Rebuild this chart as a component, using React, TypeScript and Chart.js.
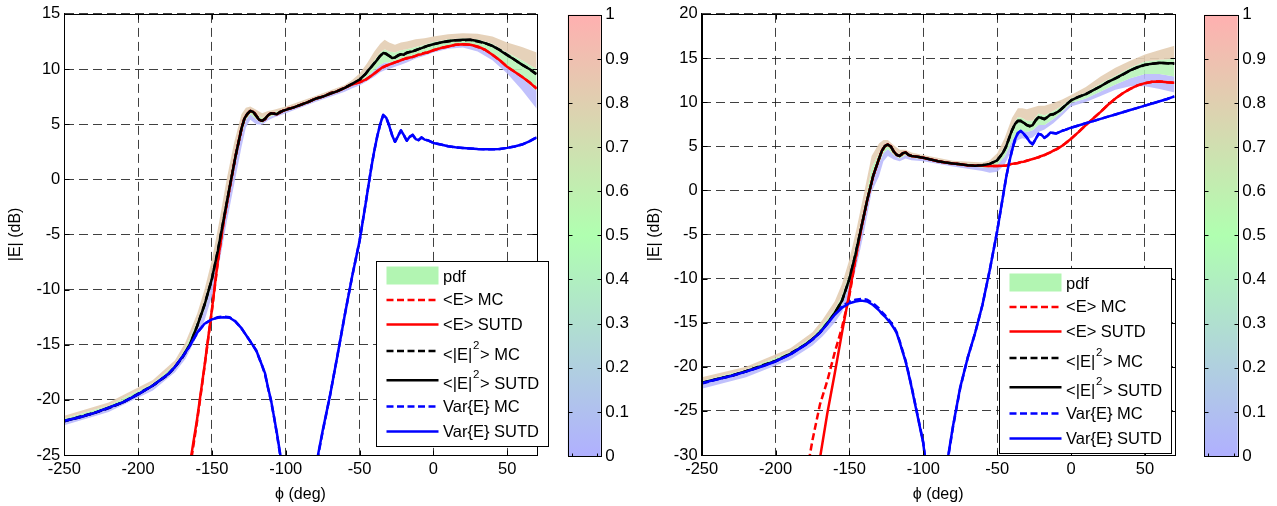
import React, { useEffect, useRef } from 'react';
import { Chart, registerables } from 'chart.js';

Chart.register(...registerables);

// ---------------- data ----------------
const PHI = [
  -250, -240, -230, -220, -210, -200, -190, -180, -175, -170,
  -165, -160, -155, -150, -146, -142, -138, -134, -130, -128,
  -126, -124, -122, -120, -118, -116, -114, -112, -110, -108,
  -106, -104, -102, -100, -95, -90, -85, -80, -75, -70,
  -65, -60, -55, -50, -46, -44, -42, -40, -38, -36,
  -34, -32, -30, -28, -26, -24, -22, -20, -18, -16,
  -14, -12, -10, -8, -6, -4, 0, 5, 10, 15,
  20, 25, 30, 35, 40, 45, 50, 55, 60, 65,
  70,
];

const X_TICKS = [-250, -200, -150, -100, -50, 0, 50];

// ----- left panel -----
const L_E2_SUTD = [
  -21.9, -21.6, -21.2, -20.7, -20.2, -19.5, -18.7, -17.7, -17.0, -16.1,
  -15.0, -13.3, -11.4, -9.0, -6.5, -3.6, -0.7, 2.1, 4.6, 5.5,
  5.95, 6.2, 6.1, 5.75, 5.4, 5.3, 5.5, 5.8, 6.0, 5.95,
  5.9, 6.1, 6.2, 6.3, 6.5, 6.75, 7.0, 7.3, 7.5, 7.75,
  8.0, 8.3, 8.65, 9.05, 9.55, 9.9, 10.2, 10.5, 10.85, 11.2,
  11.45, 11.4, 11.2, 11.0, 11.05, 11.25, 11.35, 11.3, 11.5, 11.55,
  11.6, 11.7, 11.8, 11.9, 12.0, 12.1, 12.25, 12.4, 12.55, 12.6,
  12.65, 12.65, 12.55, 12.35, 12.1, 11.7, 11.25, 10.85, 10.4, 10.0,
  9.55,
];
const L_E2_MC = [
  -21.95, -21.55, -21.2, -20.75, -20.2, -19.45, -18.7, -17.75, -17.0, -16.15,
  -15.05, -13.3, -11.35, -9.05, -6.45, -3.6, -0.75, 2.1, 4.55, 5.5,
  5.9, 6.2, 6.15, 5.8, 5.4, 5.3, 5.45, 5.8, 6.0, 6.0,
  5.9, 6.05, 6.2, 6.35, 6.5, 6.75, 7.0, 7.3, 7.5, 7.8,
  8.0, 8.3, 8.65, 9.0, 9.55, 9.9, 10.2, 10.55, 10.85, 11.2,
  11.45, 11.35, 11.2, 11.05, 11.05, 11.2, 11.35, 11.35, 11.45, 11.55,
  11.6, 11.7, 11.8, 11.9, 12.0, 12.1, 12.25, 12.4, 12.5, 12.6,
  12.6, 12.65, 12.5, 12.35, 12.1, 11.75, 11.3, 10.85, 10.4, 10.0,
  9.5,
];
const L_E_SUTD = [
  null, null, null, null, null, null, null, null, null, -30.5,
  -25.9, -21.7, -16.9, -11.8, -7.4, -3.8, -0.8, 2.1, 4.6, 5.5,
  5.95, 6.2, 6.1, 5.75, 5.4, 5.3, 5.5, 5.8, 6.0, 5.95,
  5.9, 6.1, 6.2, 6.3, 6.5, 6.75, 7.0, 7.3, 7.5, 7.75,
  8.0, 8.3, 8.6, 8.8, 9.05, 9.2, 9.4, 9.6, 9.8, 10.0,
  10.2, 10.3, 10.4, 10.5, 10.6, 10.7, 10.8, 10.9, 10.95, 11.05,
  11.1, 11.2, 11.3, 11.35, 11.45, 11.5, 11.7, 11.9, 12.05, 12.2,
  12.25, 12.2, 12.05, 11.75, 11.3, 10.8, 10.2, 9.75, 9.3, 8.8,
  8.2,
];
const L_E_MC = [
  null, null, null, null, null, null, null, null, null, -30.9,
  -26.3, -21.9, -17.0, -11.9, -7.5, -3.8, -0.8, 2.1, 4.55, 5.5,
  5.9, 6.2, 6.15, 5.8, 5.4, 5.3, 5.45, 5.8, 6.0, 6.0,
  5.9, 6.05, 6.2, 6.35, 6.5, 6.75, 7.0, 7.3, 7.5, 7.8,
  8.0, 8.3, 8.6, 8.8, 9.0, 9.2, 9.4, 9.6, 9.8, 10.0,
  10.15, 10.3, 10.4, 10.5, 10.6, 10.7, 10.8, 10.9, 11.0, 11.05,
  11.1, 11.2, 11.3, 11.4, 11.45, 11.5, 11.7, 11.9, 12.05, 12.2,
  12.25, 12.2, 12.0, 11.75, 11.3, 10.8, 10.2, 9.75, 9.3, 8.8,
  8.25,
];
const L_VAR_SUTD = [
  -21.9, -21.6, -21.2, -20.7, -20.2, -19.5, -18.7, -17.7, -17.0, -16.1,
  -15.1, -13.9, -13.1, -12.7, -12.55, -12.5, -12.55, -12.9, -13.5, -13.9,
  -14.3, -14.7, -15.1, -15.5, -16.2, -16.9, -17.6, -18.9, -20.0, -21.5,
  -23.0, -24.7, -26.3, -28.0, null, null, null, -26.3, -22.8, -19.6,
  -16.0, -12.3, -8.8, -5.6, -2.3, -0.6, 1.1, 2.6, 3.9, 5.0,
  5.85, 5.6, 4.9, 4.0, 3.4, 3.9, 4.45, 4.0, 3.5, 3.85,
  4.05, 3.65, 3.55, 3.8, 3.6, 3.55, 3.3, 3.15, 3.0, 2.9,
  2.85, 2.8, 2.75, 2.72, 2.72, 2.75, 2.85, 2.98, 3.15, 3.45,
  3.8,
];
const L_VAR_MC = [
  -21.95, -21.55, -21.2, -20.75, -20.2, -19.45, -18.7, -17.75, -17.0, -16.15,
  -15.1, -13.95, -13.1, -12.7, -12.5, -12.45, -12.5, -12.9, -13.5, -13.9,
  -14.3, -14.7, -15.1, -15.55, -16.2, -16.9, -17.7, -18.9, -20.1, -21.5,
  -23.1, -24.8, -26.4, -28.1, null, null, null, -26.4, -22.9, -19.6,
  -16.0, -12.3, -8.8, -5.6, -2.3, -0.6, 1.1, 2.6, 3.9, 5.0,
  5.8, 5.6, 4.9, 4.05, 3.4, 3.9, 4.4, 4.0, 3.5, 3.85,
  4.0, 3.65, 3.55, 3.8, 3.6, 3.55, 3.3, 3.15, 3.0, 2.9,
  2.85, 2.8, 2.75, 2.72, 2.72, 2.75, 2.85, 2.98, 3.15, 3.45,
  3.8,
];

// ----- right panel -----
const R_E2_SUTD = [
  -21.8, -21.4, -21.0, -20.5, -19.95, -19.35, -18.55, -17.5, -16.85, -16.1,
  -15.1, -13.9, -12.5, -10.0, -7.3, -4.2, -1.1, 1.6, 3.6, 4.5,
  5.05, 5.2, 4.95, 4.4, 4.0, 3.9, 4.2, 4.3, 4.0, 3.9,
  3.85, 3.8, 3.75, 3.7, 3.5, 3.3, 3.15, 3.05, 2.95, 2.85,
  2.8, 2.85, 3.0, 3.4, 4.3, 4.95, 5.9, 6.8, 7.5, 7.9,
  7.85, 7.65, 7.4, 7.25, 7.4, 7.95, 8.3, 8.2, 8.05, 8.3,
  8.6, 8.6, 8.8, 9.0, 9.3, 9.6, 10.2, 10.6, 10.9, 11.35,
  11.8, 12.3, 12.7, 13.15, 13.6, 13.95, 14.25, 14.35, 14.45, 14.4,
  14.4,
];
const R_E2_MC = [
  -21.85, -21.4, -21.05, -20.5, -19.9, -19.35, -18.5, -17.5, -16.9, -16.1,
  -15.05, -13.95, -12.5, -10.05, -7.3, -4.2, -1.15, 1.6, 3.55, 4.5,
  5.0, 5.2, 5.0, 4.4, 4.05, 3.9, 4.15, 4.3, 4.05, 3.9,
  3.85, 3.8, 3.75, 3.7, 3.5, 3.3, 3.15, 3.05, 2.95, 2.85,
  2.8, 2.85, 3.0, 3.4, 4.25, 4.95, 5.85, 6.8, 7.5, 7.85,
  7.9, 7.65, 7.4, 7.3, 7.4, 7.9, 8.3, 8.2, 8.1, 8.3,
  8.55, 8.65, 8.8, 9.0, 9.3, 9.6, 10.2, 10.6, 10.9, 11.35,
  11.8, 12.3, 12.7, 13.1, 13.6, 13.95, 14.2, 14.35, 14.45, 14.4,
  14.35,
];
const R_E_SUTD = [
  null, null, null, null, null, null, null, null, null, -30.4,
  -25.3, -20.8, -16.1, -11.6, -7.8, -4.3, -1.1, 1.6, 3.6, 4.5,
  5.05, 5.2, 4.95, 4.4, 4.0, 3.9, 4.2, 4.3, 4.0, 3.9,
  3.85, 3.8, 3.75, 3.7, 3.5, 3.3, 3.15, 3.05, 2.95, 2.85,
  2.8, 2.8, 2.75, 2.75, 2.78, 2.8, 2.9, 3.0, 3.05, 3.1,
  3.2, 3.25, 3.35, 3.45, 3.55, 3.65, 3.75, 3.9, 4.0, 4.15,
  4.3, 4.5, 4.65, 4.85, 5.05, 5.3, 5.85, 6.6, 7.4, 8.15,
  8.9, 9.7, 10.4, 11.0, 11.5, 11.9, 12.15, 12.3, 12.35, 12.25,
  12.2,
];
const R_E_MC = [
  null, null, null, null, null, null, null, -33.0, -28.3, -24.3,
  -21.6, -18.4, -15.5, -11.9, -7.9, -4.3, -1.15, 1.6, 3.55, 4.5,
  5.0, 5.2, 5.0, 4.4, 4.05, 3.9, 4.15, 4.3, 4.05, 3.9,
  3.85, 3.8, 3.75, 3.7, 3.5, 3.3, 3.15, 3.05, 2.95, 2.85,
  2.8, 2.8, 2.75, 2.75, 2.8, 2.8, 2.9, 3.0, 3.05, 3.1,
  3.2, 3.25, 3.35, 3.45, 3.55, 3.65, 3.75, 3.9, 4.0, 4.15,
  4.3, 4.5, 4.65, 4.85, 5.05, 5.3, 5.85, 6.6, 7.4, 8.15,
  8.9, 9.7, 10.4, 11.0, 11.5, 11.9, 12.15, 12.3, 12.35, 12.25,
  12.2,
];
const R_VAR_SUTD = [
  -21.85, -21.45, -21.05, -20.55, -20.0, -19.4, -18.6, -17.55, -16.9, -16.15,
  -15.15, -14.1, -13.3, -12.8, -12.6, -12.5, -12.6, -13.0, -13.6, -14.0,
  -14.3, -14.7, -15.1, -15.6, -16.2, -17.2, -18.3, -19.4, -20.8, -22.3,
  -23.9, -25.5, -27.1, -28.7, -36.0, null, -32.0, -26.8, -22.3, -19.0,
  -16.2, -13.0, -9.0, -4.6, -0.6, 1.4, 3.1, 4.5, 5.75, 6.5,
  6.75, 6.4, 6.0, 5.5, 5.2, 5.8, 6.4, 6.3, 5.95, 6.2,
  6.55, 6.5, 6.45, 6.6, 6.75, 6.85, 7.1, 7.35, 7.6, 7.85,
  8.1, 8.35, 8.6, 8.85, 9.1, 9.35, 9.6, 9.85, 10.1, 10.35,
  10.65,
];
const R_VAR_MC = [
  -21.9, -21.45, -21.0, -20.55, -20.0, -19.35, -18.6, -17.5, -16.9, -16.1,
  -15.1, -14.0, -13.15, -12.6, -12.4, -12.3, -12.4, -12.8, -13.4, -13.8,
  -14.15, -14.55, -14.95, -15.45, -16.1, -17.1, -18.2, -19.3, -20.7, -22.2,
  -23.8, -25.4, -27.0, -28.6, -36.0, null, -32.2, -26.9, -22.4, -19.0,
  -16.2, -13.0, -9.0, -4.6, -0.6, 1.4, 3.1, 4.5, 5.7, 6.5,
  6.7, 6.4, 6.0, 5.5, 5.25, 5.8, 6.4, 6.3, 5.95, 6.2,
  6.5, 6.5, 6.45, 6.6, 6.75, 6.85, 7.1, 7.35, 7.6, 7.85,
  8.1, 8.35, 8.6, 8.85, 9.1, 9.35, 9.6, 9.85, 10.1, 10.35,
  10.65,
];

// ----- pdf band edges (shared phi grid) -----
const B_PHI = [
  -250, -220, -190, -175, -168, -160, -155, -150, -145, -140,
  -135, -130, -127, -124, -120, -116, -112, -108, -100, -80,
  -60, -55, -50, -45, -40, -36, -33, -30, -26, -22,
  -18, -12, -6, 0, 10, 20, 30, 40, 50, 60,
  70,
];
const L_BAND_HI = [
  -21.45, -20.25, -18.2, -16.4, -14.8, -12.2, -10.0, -7.3, -3.8, 0.0,
  3.3, 5.9, 6.5, 6.6, 6.3, 6.0, 6.2, 6.3, 6.6, 7.55,
  8.55, 9.0, 9.6, 10.5, 11.6, 12.3, 12.65, 12.4, 12.2, 12.4,
  12.5, 12.7, 12.8, 12.95, 13.15, 13.25, 13.2, 12.95, 12.4, 12.0,
  11.5,
];
const L_BAND_UP = [
  -21.7, -20.5, -18.5, -16.8, -15.3, -12.9, -11.0, -8.5, -5.2, -1.5,
  2.0, 5.0, 6.0, 6.35, 5.95, 5.55, 5.95, 6.1, 6.4, 7.4,
  8.4, 8.75, 9.2, 9.9, 10.8, 11.5, 11.8, 11.6, 11.5, 11.7,
  11.8, 12.0, 12.2, 12.45, 12.7, 12.8, 12.7, 12.3, 11.5, 10.8,
  10.0,
];
const L_BAND_DN = [
  -22.0, -20.8, -18.8, -17.1, -15.8, -13.5, -11.8, -9.4, -6.3, -2.6,
  0.9, 4.1, 5.4, 5.9, 5.45, 5.1, 5.6, 5.8, 6.2, 7.2,
  8.2, 8.5, 8.8, 9.3, 9.9, 10.4, 10.6, 10.6, 10.7, 10.9,
  11.0, 11.3, 11.5, 11.8, 12.1, 12.2, 12.0, 11.4, 10.3, 9.2,
  8.0,
];
const L_BAND_LO = [
  -22.3, -21.1, -19.15, -17.5, -16.3, -14.2, -12.8, -10.6, -7.6, -3.9,
  -0.5, 2.9, 4.7, 5.4, 5.0, 4.95, 5.35, 5.6, 6.0, 7.0,
  7.95, 8.25, 8.5, 8.9, 9.3, 9.7, 9.9, 10.0, 10.2, 10.4,
  10.6, 10.95, 11.2, 11.5, 11.85, 11.95, 11.6, 10.8, 9.6, 8.1,
  6.4,
];
const R_BAND_HI = [
  -21.2, -20.0, -17.9, -16.1, -14.6, -12.6, -10.6, -7.8, -4.2, -0.2,
  3.9, 5.3, 5.7, 5.7, 5.1, 4.6, 4.6, 4.3, 4.0, 3.35,
  3.15, 3.4, 4.2, 5.9, 8.2, 9.3, 9.3, 9.2, 9.4, 9.6,
  9.6, 9.9, 10.3, 10.8, 11.7, 12.9, 13.9, 14.7, 15.4, 15.9,
  16.4,
];
const R_BAND_UP = [
  -21.6, -20.3, -18.3, -16.6, -15.2, -13.5, -11.9, -9.3, -5.8, -1.8,
  2.6, 4.2, 5.1, 5.35, 4.6, 4.1, 4.4, 4.0, 3.8, 3.15,
  2.95, 3.1, 3.6, 4.9, 7.2, 8.3, 8.2, 7.9, 7.9, 8.7,
  8.5, 9.0, 9.6, 10.45, 11.1, 12.1, 13.0, 13.9, 14.6, 14.8,
  14.9,
];
const R_BAND_DN = [
  -22.0, -20.7, -18.7, -17.0, -15.8, -14.2, -12.9, -10.6, -7.1, -3.1,
  1.3, 3.0, 4.2, 4.7, 4.0, 3.6, 4.0, 3.7, 3.55, 2.9,
  2.6, 2.6, 2.9, 3.8, 5.6, 6.7, 6.8, 6.6, 6.8, 7.4,
  7.4, 8.1, 8.9, 9.9, 10.4, 11.2, 12.0, 12.7, 13.2, 13.2,
  12.9,
];
const R_BAND_LO = [
  -22.5, -21.2, -19.2, -17.6, -16.5, -15.0, -13.8, -11.8, -8.5, -4.6,
  -0.2, 1.6, 3.3, 3.9, 3.5, 3.3, 3.6, 3.4, 3.3, 2.7,
  2.2, 2.0, 2.1, 2.9, 4.7, 5.7, 5.9, 5.8, 6.0, 6.6,
  6.9, 7.6, 8.5, 9.5, 10.0, 10.7, 11.4, 11.8, 11.8, 11.5,
  11.1,
];

// colorbar
const CB_LABEL = ['pdf'];
const CB_VALUE = [1];
const CB_STOPS = [0, 0.5, 1];
const CB_COLORS = ['rgb(176,176,255)', 'rgb(176,255,176)', 'rgb(255,176,176)'];
const CB_TICKS = [0, 0.1, 0.2, 0.3, 0.4, 0.5, 0.6, 0.7, 0.8, 0.9, 1];
const CB_TICK_LABELS = ['0', '0.1', '0.2', '0.3', '0.4', '0.5', '0.6', '0.7', '0.8', '0.9', '1'];

const LEGEND_LABELS = ['pdf', '<E> MC', '<E> SUTD', '<|E|^2> MC', '<|E|^2> SUTD', 'Var{E} MC', 'Var{E} SUTD'];
const X_TITLE = '\u03D5 (deg)';
const Y_TITLE = '|E| (dB)';

// ---------------- styles ----------------
const FAMILY = "'Liberation Sans', Arial, Helvetica, sans-serif";
const TICK_FONT = { family: FAMILY, size: 16.5 };
const TITLE_FONT = { family: FAMILY, size: 16 };
const CB_FONT = { family: FAMILY, size: 17 };
const RED = '#ff0000';
const BLACK = '#000000';
const BLUE = '#0000ff';
const GRID = 'rgba(30,30,30,0.85)';
const TAN = 'rgba(228,206,180,0.92)';
const GREEN = 'rgba(184,244,184,0.9)';
const LAV = 'rgba(186,186,252,0.9)';
const SWATCH = 'rgb(178,245,178)';
const H = 506;

const pts = (xs: number[], ys: (number | null)[]) => xs.map((x, i) => ({ x, y: ys[i] }));

// ---------------- plugins ----------------
const framePlugin = {
  id: 'mframe',
  afterDraw(chart: any) {
    const { ctx, chartArea: a, scales } = chart;
    const L = Math.round(a.left) + 0.5, R = Math.round(a.right) + 0.5;
    const T = Math.round(a.top) + 0.5, B = Math.round(a.bottom) + 0.5;
    ctx.save();
    ctx.strokeStyle = '#000';
    ctx.lineWidth = 1;
    ctx.setLineDash([]);
    ctx.beginPath();
    const tl = 5;
    scales.x.ticks.forEach((t: any) => {
      const px = Math.round(scales.x.getPixelForValue(t.value)) + 0.5;
      ctx.moveTo(px, B); ctx.lineTo(px, B - tl);
      ctx.moveTo(px, T); ctx.lineTo(px, T + tl);
    });
    scales.y.ticks.forEach((t: any) => {
      const py = Math.round(scales.y.getPixelForValue(t.value)) + 0.5;
      ctx.moveTo(L, py); ctx.lineTo(L + tl, py);
      ctx.moveTo(R, py); ctx.lineTo(R - tl, py);
    });
    ctx.stroke();
    ctx.strokeRect(L, T, R - L, B - T);
    ctx.restore();
  },
};

const legendPlugin = {
  id: 'mlegend',
  afterDraw(chart: any, _args: any, opts: any) {
    const { ctx, chartArea: a } = chart;
    const x0 = Math.round(a.left + opts.dx) + 0.5;
    const y0 = Math.round(a.top + opts.dy) + 0.5;
    const W = 172, Hh = 185;
    const lineDY = [14, 38.5, 63, 89.5, 118.8, 145, 170];
    const textDY = [16, 38.8, 63.5, 94, 123, 146, 170.5];
    ctx.save();
    ctx.fillStyle = '#fff';
    ctx.fillRect(x0, y0, W, Hh);
    ctx.strokeStyle = '#000';
    ctx.lineWidth = 1;
    ctx.setLineDash([]);
    ctx.strokeRect(x0, y0, W, Hh);
    const main = `16.5px ${FAMILY}`;
    const sup = `11.5px ${FAMILY}`;
    LEGEND_LABELS.forEach((label, i) => {
      const ly = y0 + lineDY[i];
      if (label === 'pdf') {
        ctx.fillStyle = SWATCH;
        ctx.fillRect(x0 + 10, ly - 9, 52, 18);
      } else {
        const ds = chart.data.datasets.find((d: any) => d.label === label);
        ctx.strokeStyle = ds.borderColor;
        ctx.lineWidth = 2.5;
        ctx.setLineDash(ds.borderDash || []);
        ctx.beginPath();
        ctx.moveTo(x0 + 10, ly);
        ctx.lineTo(x0 + 62, ly);
        ctx.stroke();
        ctx.setLineDash([]);
      }
      ctx.fillStyle = '#000';
      ctx.textBaseline = 'middle';
      ctx.textAlign = 'left';
      const ty = y0 + textDY[i];
      let tx = x0 + 66.5;
      const parts = label.split('^');
      ctx.font = main;
      ctx.fillText(parts[0], tx, ty);
      tx += ctx.measureText(parts[0]).width;
      if (parts.length > 1) {
        const s = parts[1].charAt(0);
        ctx.font = sup;
        ctx.fillText(s, tx + 0.8, ty - 10);
        tx += ctx.measureText(s).width + 1.5;
        ctx.font = main;
        ctx.fillText(parts[1].slice(1), tx, ty);
      }
    });
    ctx.restore();
  },
};

const cbFramePlugin = {
  id: 'cbframe',
  afterDraw(chart: any) {
    const { ctx, chartArea: a, scales } = chart;
    const L = Math.round(a.left) + 0.5, R = Math.round(a.right) + 0.5;
    const T = Math.round(a.top) + 0.5, B = Math.round(a.bottom) + 0.5;
    ctx.save();
    ctx.strokeStyle = '#000';
    ctx.lineWidth = 1;
    ctx.beginPath();
    scales.y.ticks.forEach((t: any) => {
      const py = Math.round(scales.y.getPixelForValue(t.value)) + 0.5;
      ctx.moveTo(L, py); ctx.lineTo(L + 4, py);
      ctx.moveTo(R, py); ctx.lineTo(R - 4, py);
    });
    ctx.moveTo(L + 4, B); ctx.lineTo(L + 4, B - 3);
    ctx.moveTo(R - 4, B); ctx.lineTo(R - 4, B - 3);
    ctx.stroke();
    ctx.strokeRect(L, T, R - L, B - T);
    ctx.restore();
  },
};

// ---------------- configs ----------------
type Panel = {
  yMin: number; yMax: number; yWidth: number; yTitlePad: number; padRight: number;
  legendDx: number; legendDy: number;
  eMC: (number | null)[]; eS: (number | null)[]; e2MC: (number | null)[]; e2S: (number | null)[];
  vMC: (number | null)[]; vS: (number | null)[];
  hi: number[]; up: number[]; dn: number[]; lo: number[];
};

function mainConfig(p: Panel) {
  const line = (label: string, ys: (number | null)[], color: string, dashed: boolean, order: number) => ({
    label,
    data: pts(PHI, ys),
    borderColor: color,
    backgroundColor: color,
    borderWidth: 2.5,
    borderDash: dashed ? [7, 3.5] : [],
    borderJoinStyle: 'round',
    pointRadius: 0,
    fill: false,
    tension: 0,
    order,
    clip: 0,
  });
  const band = (label: string, ys: number[], fill: any, color: string, order: number) => ({
    label,
    data: pts(B_PHI, ys),
    borderWidth: 0,
    borderColor: 'rgba(0,0,0,0)',
    backgroundColor: color,
    pointRadius: 0,
    fill,
    tension: 0,
    order,
    clip: 0,
  });
  const axisCommon = {
    grid: { color: GRID, lineWidth: 1, drawTicks: false },
    border: { display: true, color: '#000', width: 1, dash: [9, 5] },
  };
  return {
    type: 'line',
    data: {
      datasets: [
        band('bandHi', p.hi, '+1', TAN, 20),
        band('bandUp', p.up, '+1', GREEN, 21),
        band('bandDn', p.dn, '+1', LAV, 22),
        band('bandLo', p.lo, false, LAV, 23),
        line('<E> MC', p.eMC, RED, true, 6),
        line('<E> SUTD', p.eS, RED, false, 3),
        line('<|E|^2> MC', p.e2MC, BLACK, true, 5),
        line('<|E|^2> SUTD', p.e2S, BLACK, false, 2),
        line('Var{E} MC', p.vMC, BLUE, true, 4),
        line('Var{E} SUTD', p.vS, BLUE, false, 1),
      ],
    },
    options: {
      responsive: false,
      animation: false,
      events: [],
      layout: { padding: { left: 0, top: 13, right: p.padRight, bottom: 0 } },
      plugins: {
        legend: { display: false },
        tooltip: { enabled: false },
        mlegend: { dx: p.legendDx, dy: p.legendDy },
      },
      scales: {
        x: {
          type: 'linear',
          min: -250,
          max: 70,
          afterBuildTicks: (s: any) => { s.ticks = X_TICKS.map((v) => ({ value: v })); },
          ticks: { font: TICK_FONT, color: '#000', padding: 4.5, maxRotation: 0, autoSkip: false },
          ...axisCommon,
          title: { display: true, text: X_TITLE, font: TITLE_FONT, color: '#000', padding: { top: 0, bottom: 2 } },
          afterFit: (s: any) => { s.height = 51; },
        },
        y: {
          type: 'linear',
          min: p.yMin,
          max: p.yMax,
          ticks: { stepSize: 5, font: TICK_FONT, color: '#000', padding: 4 },
          ...axisCommon,
          title: { display: true, text: Y_TITLE, font: TITLE_FONT, color: '#000', padding: { top: p.yTitlePad, bottom: 0 } },
          afterFit: (s: any) => { s.width = p.yWidth; },
        },
      },
    },
    plugins: [framePlugin, legendPlugin],
  };
}

function cbConfig(padLeft: number) {
  return {
    type: 'bar',
    data: {
      labels: CB_LABEL,
      datasets: [
        {
          data: CB_VALUE,
          borderWidth: 0,
          barPercentage: 1,
          categoryPercentage: 1,
          backgroundColor: (c: any) => {
            const ch = c.chart;
            const a = ch.chartArea;
            if (!a) return CB_COLORS[1];
            const g = ch.ctx.createLinearGradient(0, a.bottom, 0, a.top);
            CB_STOPS.forEach((s, i) => g.addColorStop(s, CB_COLORS[i]));
            return g;
          },
        },
      ],
    },
    options: {
      responsive: false,
      animation: false,
      events: [],
      layout: { padding: { left: padLeft, top: 13, right: 0, bottom: 50 } },
      plugins: { legend: { display: false }, tooltip: { enabled: false } },
      scales: {
        x: { display: false },
        y: {
          position: 'right',
          min: 0,
          max: 1,
          afterBuildTicks: (s: any) => { s.ticks = CB_TICKS.map((v) => ({ value: v })); },
          ticks: {
            font: CB_FONT,
            color: '#000',
            padding: 4.5,
            callback: (_v: any, i: number) => CB_TICK_LABELS[i],
          },
          grid: { display: false, drawTicks: false },
          border: { display: false },
          afterFit: (s: any) => { s.width = 39.3; },
        },
      },
    },
    plugins: [cbFramePlugin],
  };
}

const LEFT: Panel = {
  yMin: -25, yMax: 15, yWidth: 64.3, yTitlePad: 6, padRight: 23.3,
  legendDx: 311.7, legendDy: 246.7,
  eMC: L_E_MC, eS: L_E_SUTD, e2MC: L_E2_MC, e2S: L_E2_SUTD, vMC: L_VAR_MC, vS: L_VAR_SUTD,
  hi: L_BAND_HI, up: L_BAND_UP, dn: L_BAND_DN, lo: L_BAND_LO,
};
const RIGHT: Panel = {
  yMin: -30, yMax: 20, yWidth: 61.7, yTitlePad: 4.5, padRight: 22.5,
  legendDx: 297, legendDy: 254,
  eMC: R_E_MC, eS: R_E_SUTD, e2MC: R_E2_MC, e2S: R_E2_SUTD, vMC: R_VAR_MC, vS: R_VAR_SUTD,
  hi: R_BAND_HI, up: R_BAND_UP, dn: R_BAND_DN, lo: R_BAND_LO,
};

function ChartBox({ left, width, make }: { left: number; width: number; make: () => any }) {
  const ref = useRef<HTMLCanvasElement>(null);
  useEffect(() => {
    const chart = new Chart(ref.current as HTMLCanvasElement, make());
    return () => chart.destroy();
  }, []);
  return (
    <canvas
      ref={ref}
      width={width}
      height={H}
      style={{ position: 'absolute', left, top: 0, width, height: H, display: 'block' }}
    />
  );
}

export default function App() {
  return (
    <div style={{ position: 'absolute', left: 0, top: 0, width: 1277, height: H, background: '#fff', overflow: 'hidden' }}>
      <ChartBox left={0} width={560} make={() => mainConfig(LEFT)} />
      <ChartBox left={560} width={80} make={() => cbConfig(7.7)} />
      <ChartBox left={640} width={557} make={() => mainConfig(RIGHT)} />
      <ChartBox left={1197} width={80} make={() => cbConfig(7.3)} />
    </div>
  );
}
